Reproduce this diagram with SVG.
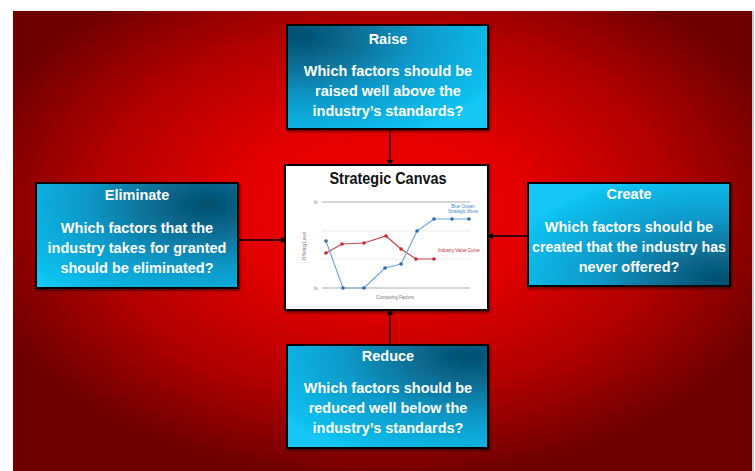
<svg xmlns="http://www.w3.org/2000/svg" width="755" height="471" viewBox="0 0 755 471">
  <defs>
    <radialGradient id="bg" gradientUnits="userSpaceOnUse" cx="383" cy="210" r="420" gradientTransform="translate(0 210) scale(1 0.64) translate(0 -210)">
      <stop offset="0" stop-color="#f20000"/>
      <stop offset="0.35" stop-color="#e20000"/>
      <stop offset="0.7" stop-color="#b00000"/>
      <stop offset="1" stop-color="#700000"/>
    </radialGradient>
    <radialGradient id="gRaise" cx="0.05" cy="0.1" r="1.1">
      <stop offset="0" stop-color="#055070"/>
      <stop offset="0.2" stop-color="#07658a"/>
      <stop offset="0.55" stop-color="#0a98c8"/>
      <stop offset="1" stop-color="#12c6f4"/>
    </radialGradient>
    <radialGradient id="gElim" cx="0.85" cy="0.2" r="1.1">
      <stop offset="0" stop-color="#055070"/>
      <stop offset="0.2" stop-color="#07658a"/>
      <stop offset="0.55" stop-color="#0a98c8"/>
      <stop offset="1" stop-color="#12c6f4"/>
    </radialGradient>
    <radialGradient id="gCreate" cx="0.95" cy="0.95" r="1.1">
      <stop offset="0" stop-color="#055070"/>
      <stop offset="0.2" stop-color="#07658a"/>
      <stop offset="0.55" stop-color="#0a98c8"/>
      <stop offset="1" stop-color="#12c6f4"/>
    </radialGradient>
    <radialGradient id="gReduce" cx="0.9" cy="0.1" r="1.1">
      <stop offset="0" stop-color="#055070"/>
      <stop offset="0.2" stop-color="#07658a"/>
      <stop offset="0.55" stop-color="#0a98c8"/>
      <stop offset="1" stop-color="#12c6f4"/>
    </radialGradient>
    <marker id="arrow" markerWidth="6" markerHeight="6" refX="5" refY="3" orient="auto" markerUnits="userSpaceOnUse">
      <path d="M0,0 L6,3 L0,6 z" fill="#000"/>
    </marker>
    <filter id="shadow" x="-5%" y="-5%" width="115%" height="120%">
      <feDropShadow dx="1" dy="2" stdDeviation="1.2" flood-color="#000" flood-opacity="0.45"/>
    </filter>
  </defs>
  <style>
    .box { stroke: #000; stroke-width: 2; filter: url(#shadow); }
    .ttl { font-family: "Liberation Sans", Arial, sans-serif; font-weight: bold; font-size: 14.5px; fill: #fff; text-anchor: middle; }
    .txt { font-family: "Liberation Sans", Arial, sans-serif; font-weight: bold; font-size: 14.5px; fill: #fff; text-anchor: middle; }
    .conn { stroke: #000; stroke-width: 1.3; fill: none; marker-end: url(#arrow); }
    .axis { stroke: #c8c8c8; stroke-width: 1.4; }
    .faint { stroke: #ececec; stroke-width: 1; }
    .tiny { font-family: "Liberation Sans", Arial, sans-serif; font-size: 4.5px; }
  </style>

  <!-- page and backdrop -->
  <rect x="0" y="0" width="755" height="471" fill="#fff"/>
  <rect x="13" y="11" width="739" height="460" fill="url(#bg)"/>
  <line x1="753" y1="11" x2="753" y2="471" stroke="#999" stroke-width="1"/>

  <!-- connectors -->
  <g id="connectors">
    <line class="conn" x1="390" y1="129" x2="390" y2="165"/>
    <line class="conn" x1="238" y1="240" x2="286" y2="240"/>
    <line class="conn" x1="528" y1="236" x2="488" y2="236"/>
    <line class="conn" x1="390" y1="345" x2="390" y2="310"/>
  </g>

  <!-- centre: strategy canvas chart -->
  <g id="canvas">
    <rect x="285" y="165" width="203" height="145" fill="#fff" stroke="#000" stroke-width="2" filter="url(#shadow)"/>
    <text x="388" y="184" font-family="Liberation Sans, Arial, sans-serif" font-weight="bold" font-size="17" fill="#111" text-anchor="middle" textLength="117" lengthAdjust="spacingAndGlyphs">Strategic Canvas</text>
    <line class="faint" x1="322" y1="231" x2="470" y2="231"/>
    <line class="faint" x1="322" y1="259" x2="470" y2="259"/>
    <line class="axis" x1="322" y1="202" x2="470" y2="202"/>
    <line class="axis" x1="322" y1="288" x2="470" y2="288"/>
    <text class="tiny" x="314" y="203.5" fill="#777">hi</text>
    <text class="tiny" x="314" y="289.5" fill="#777">lo</text>
    <text class="tiny" x="0" y="0" fill="#777" text-anchor="middle" transform="translate(306 246) rotate(-90)">Offering Level</text>
    <text class="tiny" x="395" y="298.5" fill="#777" text-anchor="middle">Competing Factors</text>
    <!-- industry value curve -->
    <polyline points="326,253 342,244 364,243 386,236 401,249 416,259 434,259" fill="none" stroke="#d0454f" stroke-width="1.2"/>
    <g fill="#c22a35">
      <circle cx="326" cy="253" r="1.8"/><circle cx="342" cy="244" r="1.8"/><circle cx="364" cy="243" r="1.8"/>
      <circle cx="386" cy="236" r="1.8"/><circle cx="401" cy="249" r="1.8"/><circle cx="416" cy="259" r="1.8"/>
      <circle cx="434" cy="259" r="1.8"/>
    </g>
    <text class="tiny" x="438" y="252" fill="#c22a35">Industry Value Curve</text>
    <!-- blue ocean move -->
    <polyline points="326,241 343,288 364,288 385,268 401,264 417,231 434,219 452,219 469,219" fill="none" stroke="#72a8d6" stroke-width="1.2"/>
    <g fill="#2e6ca8">
      <circle cx="326" cy="241" r="1.8"/><circle cx="343" cy="288" r="1.8"/><circle cx="364" cy="288" r="1.8"/>
      <circle cx="385" cy="268" r="1.8"/><circle cx="401" cy="264" r="1.8"/><circle cx="417" cy="231" r="1.8"/>
      <circle cx="434" cy="219" r="1.8"/><circle cx="452" cy="219" r="1.8"/><circle cx="469" cy="219" r="1.8"/>
    </g>
    <text class="tiny" x="463" y="208" fill="#4a86c0" text-anchor="middle">Blue Ocean</text>
    <text class="tiny" x="463" y="213" fill="#4a86c0" text-anchor="middle">Strategic Move</text>
  </g>

  <!-- Raise -->
  <g id="raise">
    <rect class="box" x="287" y="25" width="201" height="104" fill="url(#gRaise)"/>
    <text class="ttl" x="388" y="44">Raise</text>
    <text class="txt" x="388" y="76">Which factors should be</text>
    <text class="txt" x="388" y="96">raised well above the</text>
    <text class="txt" x="388" y="116">industry’s standards?</text>
  </g>

  <!-- Eliminate -->
  <g id="eliminate">
    <rect class="box" x="36" y="183" width="202" height="105" fill="url(#gElim)"/>
    <text class="ttl" x="137" y="200">Eliminate</text>
    <text class="txt" x="137" y="233">Which factors that the</text>
    <text class="txt" x="137" y="253">industry takes for granted</text>
    <text class="txt" x="137" y="273">should be eliminated?</text>
  </g>

  <!-- Create -->
  <g id="create">
    <rect class="box" x="528" y="183" width="202" height="103" fill="url(#gCreate)"/>
    <text class="ttl" x="629" y="199">Create</text>
    <text class="txt" x="629" y="232">Which factors should be</text>
    <text class="txt" x="629" y="252" textLength="194" lengthAdjust="spacingAndGlyphs">created that the industry has</text>
    <text class="txt" x="629" y="272">never offered?</text>
  </g>

  <!-- Reduce -->
  <g id="reduce">
    <rect class="box" x="287" y="345" width="201" height="103" fill="url(#gReduce)"/>
    <text class="ttl" x="388" y="361">Reduce</text>
    <text class="txt" x="388" y="393">Which factors should be</text>
    <text class="txt" x="388" y="413">reduced well below the</text>
    <text class="txt" x="388" y="433">industry’s standards?</text>
  </g>
</svg>
